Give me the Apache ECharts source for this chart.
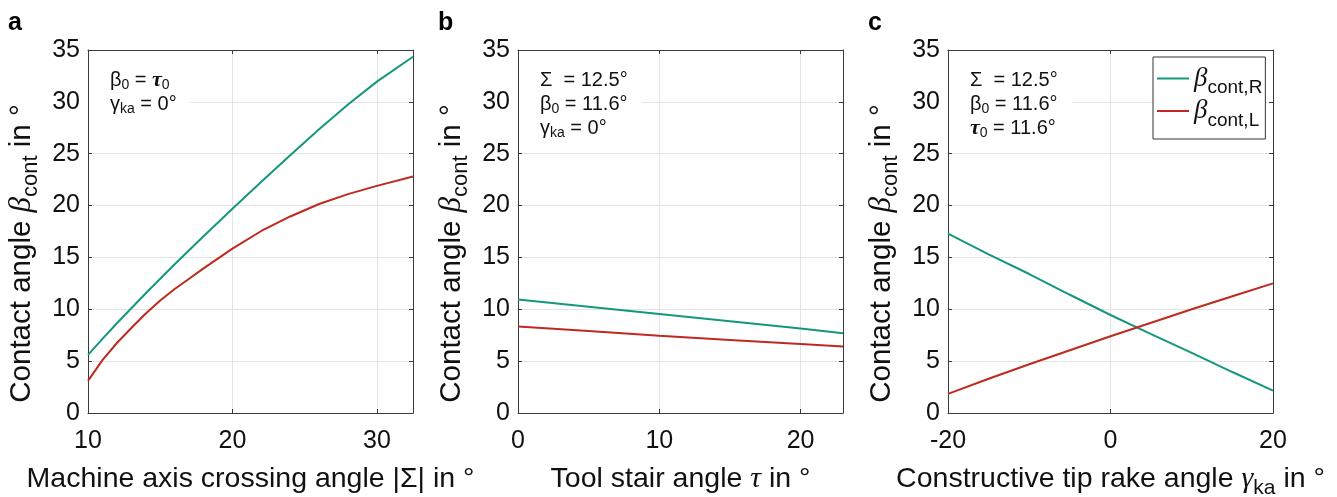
<!DOCTYPE html>
<html><head><meta charset="utf-8">
<script src="https://cdn.jsdelivr.net/npm/echarts@6/dist/echarts.min.js"></script>
<style>html,body{margin:0;padding:0;background:#fff}#c{width:1337px;height:497px}</style>
</head><body><div id="c"></div>
<script>
// Panel a: machine axis crossing angle |Σ|
const sigma  = [10, 11, 12, 13, 14, 15, 16, 17, 18, 20, 22, 24, 26, 28, 30, 32.5];
const sigmaR = [5.6, 7.15, 8.65, 10.1, 11.55, 12.95, 14.35, 15.7, 17.05, 19.7, 22.3, 24.85, 27.35, 29.75, 31.95, 34.35];
const sigmaL = [3.1, 5.1, 6.75, 8.2, 9.6, 10.85, 11.95, 12.95, 13.95, 15.85, 17.55, 18.95, 20.15, 21.1, 21.9, 22.8];
// Panel b: tool stair angle τ
const tau  = [0, 5, 10, 15, 20, 23];
const tauR = [10.95, 10.25, 9.55, 8.85, 8.15, 7.7];
const tauL = [8.35, 7.9, 7.45, 7.05, 6.65, 6.4];
// Panel c: constructive tip rake angle γka
const gamma  = [-20, -15, -10, -5, 0, 5, 10, 15, 20];
const gammaR = [17.3, 15.3, 13.4, 11.4, 9.45, 7.6, 5.8, 3.95, 2.15];
const gammaL = [1.85, 3.3, 4.7, 6.05, 7.4, 8.7, 10.0, 11.25, 12.5];

const yRange = {min: 0, max: 35, interval: 5};
const xRanges = [{min: 10, max: 32.5, interval: 10}, {min: 0, max: 23, interval: 10}, {min: -20, max: 20, interval: 20}];
const seriesNames = ['βcont,R', 'βcont,L'];
const legendLabels = {'βcont,R': '{b|β}{s|cont,R}', 'βcont,L': '{b|β}{s|cont,L}'};
const xNames = ['Machine axis crossing angle |Σ| in °', 'Tool stair angle {m|τ} in °', 'Constructive tip rake angle {m|γ}{s|ka} in °'];
const yName = 'Contact angle {m|β}{s|cont} in °';
const notes = [
  '{t|β}{u|0}{t| = }{m|τ}{u|0}\n{t|γ}{u|ka}{t| = 0°}',
  '{t|Σ  = 12.5°}\n{t|β}{u|0}{t| = 11.6°}\n{t|γ}{u|ka}{t| = 0°}',
  '{t|Σ  = 12.5°}\n{t|β}{u|0}{t| = 11.6°}\n{m|τ}{u|0}{t| = 11.6°}'
];
const letters = ['a', 'b', 'c'];

const GREEN = '#14977d', RED = '#be2a1f';
const SANS = 'Arial, "Liberation Sans", sans-serif';
const SERIF = '"Liberation Serif", "DejaVu Serif", serif';
const lefts = [88, 518, 948];
const TOP = 50, W = 325, H = 363;
const axisCol = '#3a3a3a';

const grids = [], xAxes = [], yAxes = [], series = [], graphics = [];
const xNameRich = {
  m: {fontFamily: SERIF, fontStyle: 'italic', fontSize: 30, lineHeight: 40},
  s: {fontFamily: SANS, fontSize: 21, lineHeight: 40, verticalAlign: 'bottom'}
};
const yNameRich = {
  m: {fontFamily: SERIF, fontStyle: 'italic', fontSize: 31, lineHeight: 40},
  s: {fontFamily: SANS, fontSize: 22, lineHeight: 40, verticalAlign: 'bottom'}
};
const panels = [[sigma, sigmaR, sigmaL], [tau, tauR, tauL], [gamma, gammaR, gammaL]];

panels.forEach((p, i) => {
  grids.push({left: lefts[i], top: TOP, width: W, height: H, outerBoundsMode: 'none', containLabel: false});
  const xr = xRanges[i];
  xAxes.push({
    type: 'value', gridIndex: i, min: xr.min, max: xr.max, interval: xr.interval,
    name: xNames[i], nameLocation: 'middle', nameGap: 40,
    nameTextStyle: {fontFamily: SANS, fontSize: 28.5, color: '#111', lineHeight: 40, rich: xNameRich},
    axisLine: {show: true, onZero: false, lineStyle: {color: axisCol, width: 1}},
    axisTick: {show: true, inside: true, length: 4, lineStyle: {color: axisCol}},
    axisLabel: {fontFamily: SANS, fontSize: 25, color: '#111', margin: 16, showMaxLabel: i === 2},
    splitLine: {show: true, lineStyle: {color: '#e3e3e3', width: 1}}
  });
  yAxes.push({
    type: 'value', gridIndex: i, min: yRange.min, max: yRange.max, interval: yRange.interval,
    name: yName, nameLocation: 'middle', nameGap: 46, nameRotate: 90,
    nameTextStyle: {fontFamily: SANS, fontSize: 29.5, color: '#111', lineHeight: 40, rich: yNameRich, padding: [0, 44, 0, 0]},
    axisLine: {show: true, onZero: false, lineStyle: {color: axisCol, width: 1}},
    axisTick: {show: true, inside: true, length: 4, lineStyle: {color: axisCol}},
    axisLabel: {fontFamily: SANS, fontSize: 25, color: '#111', margin: 8},
    splitLine: {show: true, lineStyle: {color: '#e3e3e3', width: 1}}
  });
  [1, 2].forEach((k, j) => {
    series.push({
      type: 'line', name: seriesNames[j], xAxisIndex: i, yAxisIndex: i,
      data: p[0].map((x, n) => [x, p[k][n]]),
      showSymbol: false, smooth: false,
      lineStyle: {width: 2, color: j === 0 ? GREEN : RED},
      itemStyle: {color: j === 0 ? GREEN : RED},
      z: 3
    });
  });
  graphics.push({
    type: 'text', left: lefts[i] + 1, top: 62, z: 50,
    style: {
      text: notes[i], backgroundColor: '#fff', padding: [6, 14, 6, 21],
      fill: '#111', font: '20px ' + SANS, lineHeight: 24,
      rich: {
        t: {fontFamily: SANS, fontSize: 20, lineHeight: 24, fill: '#111'},
        m: {fontFamily: SERIF, fontStyle: 'italic', fontWeight: 'bold', fontSize: 22, lineHeight: 24, fill: '#111'},
        u: {fontFamily: SANS, fontSize: 14, lineHeight: 24, verticalAlign: 'bottom', fill: '#111'}
      }
    }
  });
  graphics.push({
    type: 'text', left: lefts[i] - 80, top: 11, z: 50,
    style: {text: letters[i], fill: '#000', font: 'bold 25px ' + SANS}
  });
});
// mirrored top / right axes for the box and inner ticks
panels.forEach((p, i) => {
  const xr = xRanges[i];
  xAxes.push({
    type: 'value', gridIndex: i, position: 'top', min: xr.min, max: xr.max, interval: xr.interval,
    axisLine: {show: true, onZero: false, lineStyle: {color: axisCol}},
    axisTick: {show: true, inside: true, length: 4, lineStyle: {color: axisCol}},
    axisLabel: {show: false}, splitLine: {show: false}
  });
  yAxes.push({
    type: 'value', gridIndex: i, position: 'right', min: yRange.min, max: yRange.max, interval: yRange.interval,
    axisLine: {show: true, onZero: false, lineStyle: {color: axisCol}},
    axisTick: {show: true, inside: true, length: 4, lineStyle: {color: axisCol}},
    axisLabel: {show: false}, splitLine: {show: false}
  });
});

const chart = echarts.init(document.getElementById('c'), null, {renderer: 'canvas'});
chart.setOption({
  animation: false,
  backgroundColor: '#fff',
  grid: grids, xAxis: xAxes, yAxis: yAxes, series: series, graphic: graphics,
  legend: {
    data: seriesNames, left: 1153, top: 57, orient: 'vertical',
    padding: [8, 3, 9, 4], itemGap: 0, itemWidth: 32, itemHeight: 2, icon: 'rect',
    borderColor: '#333', borderWidth: 1, backgroundColor: '#fff',
    selectedMode: false,
    formatter: n => legendLabels[n],
    textStyle: {
      color: '#111',
      rich: {
        b: {fontFamily: SERIF, fontStyle: 'italic', fontSize: 27, lineHeight: 38, color: '#111'},
        s: {fontFamily: SANS, fontSize: 19, lineHeight: 38, verticalAlign: 'bottom', color: '#111'}
      }
    }
  }
});
</script></body></html>
